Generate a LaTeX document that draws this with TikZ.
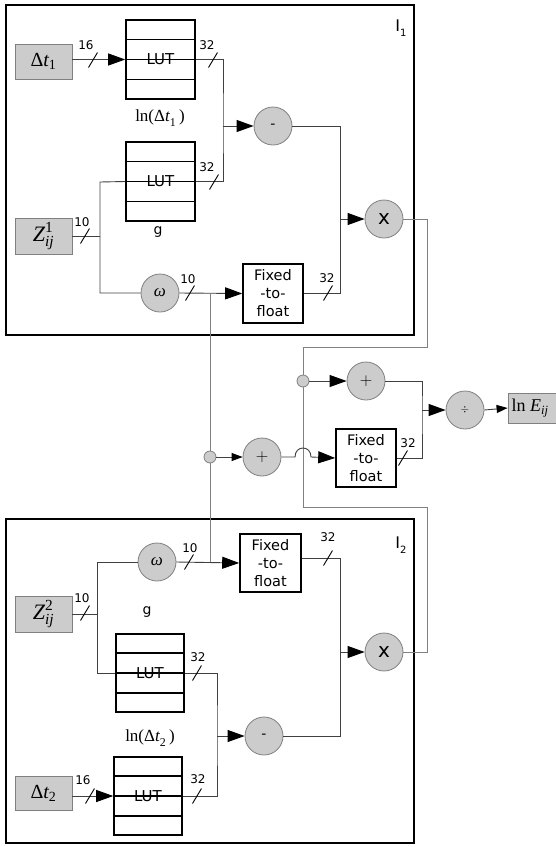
\documentclass[tikz,border=0pt]{standalone}
\usepackage{amsmath}
\usepackage{fontspec}
\newfontfamily\dv{DejaVu Sans}
\newfontfamily\tnr{Liberation Serif}
\usetikzlibrary{arrows.meta,calc}
\tikzset{
 wire/.style={draw=black!75, line width=0.9pt},
 arr/.style={wire, -{Triangle[length=17pt,width=12pt,color=black]}},
 sarr/.style={wire, -{Triangle[length=11pt,width=8pt,color=black]}},
 gbox/.style={draw=gray, fill=black!20, line width=0.8pt, inner sep=0, minimum width=57pt, minimum height=35pt},
 lut/.style={draw, line width=1.6pt, minimum width=69pt, minimum height=79pt, inner sep=0, font=\dv\fontsize{15}{15}\selectfont},
 ffbox/.style={draw, fill=white, line width=1.6pt, minimum width=60pt, minimum height=59pt, inner sep=0, align=center, font=\dv\fontsize{14.5}{18}\selectfont},
 op/.style={circle, draw=gray, fill=black!20, minimum size=38pt, inner sep=0, line width=0.8pt},
 jn/.style={circle, draw=gray, fill=black!20, minimum size=12pt, inner sep=0, line width=0.8pt},
 outer/.style={draw, line width=1.6pt, inner sep=0},
 num/.style={font=\dv\fontsize{12}{12}\selectfont, inner sep=0},
 lab/.style={inner sep=0},
}
\newcommand\lutrows[1]{\foreach \f in {0.25,0.5,0.75}{\draw[line width=1.6pt] ($(#1.north west)!\f!(#1.south west)$) -- ($(#1.north east)!\f!(#1.south east)$);}}
\newcommand\bus[5]{\draw[black, line width=0.9pt] ({#1-4.5},{#2+7.5}) -- ({#1+4.5},{#2-7.5}); \node[num] at (#3,#4) {#5};}
\newcommand\DT[1]{$\text{\tnr Δ\itshape t}_{\text{\tnr #1}}$}
\newcommand\LNDT[1]{$\text{\tnr ln(Δ\itshape t}_{\text{\tnr #1}}\text{\tnr\,)}$}
\newcommand\ZZ[1]{$\text{\tnr\itshape Z}^{\text{\tnr #1}}_{\text{\tnr\itshape ij}}$}
\newcommand\OM{\tnr\itshape ω}
\begin{document}
\begin{tikzpicture}[x=1pt,y=-1pt]
\useasboundingbox (0,0) rectangle (555,847);
% outer boxes
\node[outer, minimum width=408pt, minimum height=330pt] (box1) at (210,170) {};
\node[outer, minimum width=408pt, minimum height=324pt] (box2) at (210,681) {};
\node[lab, font=\dv\fontsize{16}{16}\selectfont] (i1) at (401,28) {I\raisebox{-5pt}{\fontsize{10}{10}\selectfont 1}};
\node[lab, font=\dv\fontsize{16}{16}\selectfont] (i2) at (401,545) {I\raisebox{-5pt}{\fontsize{10}{10}\selectfont 2}};

% ---------- top section ----------
\node[gbox] (d1) at (43.5,61.5) {\fontsize{20}{20}\selectfont\DT{1}};
\node[lut] (lut1) at (160.5,59.5) {LUT}; \lutrows{lut1}
\node[lut] (lut2) at (160.5,181.5) {LUT}; \lutrows{lut2}
\node[gbox, minimum height=36pt] (z1) at (43.5,236.5) {\fontsize{22}{22}\selectfont\ZZ{1}};
\node[op] (om1) at (160,293) {\fontsize{17}{17}\selectfont\OM};
\node[ffbox] (ff1) at (273,293.5) {Fixed\\-to-\\float};
\node[op] (sub1) at (273,126) {\dv\fontsize{14}{14}\selectfont -};
\node[op] (mul1) at (384,219) {\dv\fontsize{20}{20}\selectfont x};
\node[lab] (l1) at (160,118) {\fontsize{17}{17}\selectfont\LNDT{1}};
\node[lab, font=\dv\fontsize{14}{14}\selectfont] (g1) at (158,232) {g};

\draw[arr] (d1.east |- lut1.west) -- (lut1.west);
\bus{93}{60}{86}{45}{16}
\coordinate (c1) at (223,126);
\draw[wire] (lut1.east) -| (c1) |- (lut2.east);
\draw[arr] (c1) -- (sub1.west);
\bus{213}{60}{207}{45}{32}
\bus{214}{182}{207}{167}{32}
\coordinate (c2) at (100,182);
\coordinate (c3) at (100,293);
\draw[wire] (lut2.west) -- (c2) -- (c3) -- (om1.west);
\draw[wire] (z1.east) -- (z1.east -| c2);
\bus{85}{236}{82}{222}{10}
\draw[arr] (om1.east) -- (ff1.west);
\bus{190}{293}{188}{279}{10}
\coordinate (c4) at (340,126);
\draw[wire] (ff1.east) -| (c4) -- (sub1.east);
\draw[arr] (c4 |- mul1.west) -- (mul1.west);
\bus{328}{293}{327}{278}{32}

% ---------- middle section ----------
\coordinate (b1) at (427,347);
\coordinate (b2) at (303,347);
\coordinate (b3) at (303,507);
\coordinate (b4) at (427,507);
\node[op] (mul2) at (384,652) {\dv\fontsize{20}{20}\selectfont x};
\draw[draw=gray, line width=0.9pt] (mul1.east) -| (b1) -- (b2) -- (b3) -- (b4) |- (mul2.east);
\node[jn] (j1) at (303,381) {};
\node[op] (add1) at (366,381) {\fontsize{19}{19}\selectfont$+$};
\node[op] (div) at (465,410) {\fontsize{11}{11}\selectfont$\div$};
\node[gbox, minimum width=50pt, minimum height=30pt] (lnE) at (533,408) {\fontsize{18}{18}\selectfont\hspace*{-3pt}$\text{\tnr ln \itshape E}_{\text{\tnr\itshape ij}}$\hspace*{3pt}};
\node[ffbox, minimum height=58pt] (ff2) at (366,458) {Fixed\\-to-\\float};
\draw[arr] (j1.east) -- (add1.west);
\coordinate (c5) at (422,410);
\draw[wire] (add1.east) -| (c5) |- (ff2.east);
\draw[arr] (c5) -- (div.west);
\draw[sarr] (div.east) -- (lnE.west);
\bus{403}{458}{408}{443}{32}

\coordinate (v1) at (210,293);
\coordinate (v2) at (210,562);
\draw[draw=gray, line width=0.9pt] (v1) -- (v2);
\node[jn] (j2) at (210,457) {};
\node[op] (add2) at (262,457) {\fontsize{19}{19}\selectfont$+$};
\draw[sarr] (j2.east) -- (add2.west);
\coordinate (h1) at (295,457);
\coordinate (h2) at (311,457);
\draw[arr] (add2.east) -- (h1) .. controls (295,445) and (311,445) .. (h2) -- (ff2.west);

% ---------- bottom section ----------
\node[op] (om2) at (157,562) {\fontsize{17}{17}\selectfont\OM};
\node[ffbox, minimum width=61pt, minimum height=58pt] (ff3) at (270.5,563) {Fixed\\-to-\\float};
\node[gbox, minimum height=36pt] (z2) at (43.5,614) {\fontsize{22}{22}\selectfont\ZZ{2}};
\node[lut, minimum width=68pt, minimum height=78pt] (lut3) at (150,673) {LUT}; \lutrows{lut3}
\node[op] (sub2) at (264,736) {\dv\fontsize{14}{14}\selectfont -};
\node[lut, minimum width=68pt, minimum height=78pt] (lut4) at (148,796) {LUT}; \lutrows{lut4}
\node[gbox, minimum height=34pt] (d2) at (43.5,793) {\fontsize{20}{20}\selectfont\DT{2}};
\node[lab, font=\dv\fontsize{14}{14}\selectfont] (g2) at (147,612) {g};
\node[lab] (l2) at (150,738) {\fontsize{17}{17}\selectfont\LNDT{2}};

\coordinate (c6) at (97,562);
\coordinate (c7) at (97,673);
\draw[wire] (om2.west) -- (c6) -- (c7) -- (lut3.west);
\draw[wire] (z2.east) -- (z2.east -| c6);
\bus{85}{613}{82}{598}{10}
\draw[arr] (om2.east) -- (ff3.west);
\bus{189}{562}{190}{548}{10}
\coordinate (c8) at (340,558);
\coordinate (c9) at (340,736);
\draw[wire] ([yshift=5pt]ff3.east) -- (c8) -- (c9) -- (sub2.east);
\draw[arr] (c8 |- mul2.west) -- (mul2.west);
\bus{328}{558}{328}{537}{32}
\coordinate (c10) at (217,736);
\draw[wire] (lut3.east) -| (c10) |- (lut4.east);
\draw[arr] (c10) -- (sub2.west);
\bus{197}{673}{198}{657}{32}
\bus{197}{796}{198}{779}{32}
\draw[arr] (d2.east |- lut4.west) -- (lut4.west);
\bus{90}{796}{83}{780}{16}
\end{tikzpicture}
\end{document}
